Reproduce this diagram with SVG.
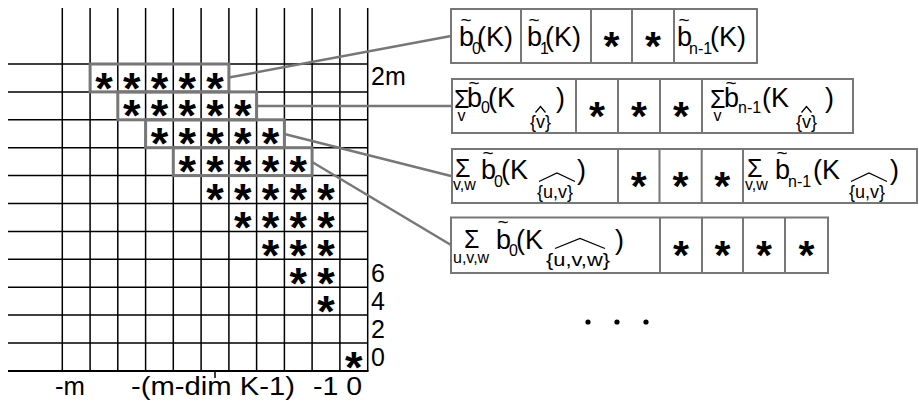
<svg xmlns="http://www.w3.org/2000/svg" width="919" height="404" viewBox="0 0 919 404">
<style>
text{font-family:"Liberation Sans",Arial,sans-serif;fill:#000}
.g{stroke:#000;stroke-width:1.5;fill:none}
.hl{stroke:#777;stroke-width:3;fill:none}
.bx{stroke:#777;stroke-width:2;fill:#fff}
.dv{stroke:#777;stroke-width:2}
.cn{stroke:#777;stroke-width:2.5;fill:none}
.st{font-size:45px;font-weight:bold;text-anchor:middle}
.bs{font-size:41px;font-weight:bold;text-anchor:middle}
.lb{font-size:25px}
.m{font-size:27px}
.sb{font-size:16px}
.br{font-size:18px}
.sg{font-size:25px}
.tl{font-size:19px;text-anchor:middle}
.hat{stroke:#000;stroke-width:1.3;fill:none}
</style>
<g id="grid">
<g class="g">
<path d="M62.3 8V371M90.1 8V371M117.8 8V371M145.6 8V371M173.3 8V371M201.1 8V371M228.9 8V371M256.6 8V371M284.4 8V371M312.1 8V371M339.9 8V371M367.7 8V371"/>
<path d="M8 64H367.7M8 91.9H367.7M8 119.8H367.7M8 147.7H367.7M8 175.6H367.7M8 203.5H367.7M8 231.4H367.7M8 259.3H367.7M8 287.2H367.7M8 315.1H367.7M8 343H367.7"/>
<path d="M8 371H368.5" stroke-width="2"/>
<path d="M215 371V378"/>
</g>
<g class="hl">
<rect x="90.1" y="64" width="138.8" height="27.9"/>
<rect x="117.8" y="91.9" width="138.8" height="27.9"/>
<rect x="145.6" y="119.8" width="138.8" height="27.9"/>
<rect x="173.3" y="147.7" width="138.8" height="27.9"/>
</g>
<g class="st">
<text x="104" y="103.5">*</text><text x="131.7" y="103.5">*</text><text x="159.5" y="103.5">*</text><text x="187.2" y="103.5">*</text><text x="215" y="103.5">*</text>
<text x="131.7" y="131.4">*</text><text x="159.5" y="131.4">*</text><text x="187.2" y="131.4">*</text><text x="215" y="131.4">*</text><text x="242.8" y="131.4">*</text>
<text x="159.5" y="159.3">*</text><text x="187.2" y="159.3">*</text><text x="215" y="159.3">*</text><text x="242.8" y="159.3">*</text><text x="270.5" y="159.3">*</text>
<text x="187.2" y="187.2">*</text><text x="215" y="187.2">*</text><text x="242.8" y="187.2">*</text><text x="270.5" y="187.2">*</text><text x="298.3" y="187.2">*</text>
<text x="215" y="215.1">*</text><text x="242.8" y="215.1">*</text><text x="270.5" y="215.1">*</text><text x="298.3" y="215.1">*</text><text x="326" y="215.1">*</text>
<text x="242.8" y="243">*</text><text x="270.5" y="243">*</text><text x="298.3" y="243">*</text><text x="326" y="243">*</text>
<text x="270.5" y="270.9">*</text><text x="298.3" y="270.9">*</text><text x="326" y="270.9">*</text>
<text x="298.3" y="298.8">*</text><text x="326" y="298.8">*</text>
<text x="326" y="326.7">*</text>
<text x="353.8" y="382.5">*</text>
</g>
<g class="lb">
<text x="371" y="85">2m</text>
<text x="371" y="282">6</text>
<text x="371" y="310">4</text>
<text x="371" y="338">2</text>
<text x="371" y="366">0</text>
<text x="55" y="395" textLength="30" lengthAdjust="spacingAndGlyphs">-m</text>
<text x="131" y="395" textLength="164" lengthAdjust="spacingAndGlyphs">-(m-dim K-1)</text>
<text x="313" y="395" textLength="49" lengthAdjust="spacingAndGlyphs">-1 0</text>
</g>
</g>
<g id="connectors" class="cn">
<path d="M228.9 77.5L451 36"/>
<path d="M256.6 106H451"/>
<path d="M284.4 134L451 176"/>
<path d="M312.1 162L451 245"/>
</g>
<g id="box1">
<rect class="bx" x="451" y="9" width="306" height="54"/>
<path class="dv" d="M521 9V63M591 9V63M632 9V63M674 9V63"/>
<text class="m" x="459" y="46">b</text><text class="tl" x="466" y="26">~</text><text class="sb" x="472" y="54">0</text><text class="m" x="477" y="46">(K)</text>
<text class="m" x="527" y="46">b</text><text class="tl" x="534" y="26">~</text><text class="sb" x="540" y="54">1</text><text class="m" x="545" y="46">(K)</text>
<text class="bs" x="611.5" y="59.5">*</text><text class="bs" x="653" y="59.5">*</text>
<text class="m" x="677" y="46">b</text><text class="tl" x="684" y="26">~</text><text class="sb" x="689" y="54">n-1</text><text class="m" x="710" y="46">(K)</text>
</g>
<g id="box2">
<rect class="bx" x="452" y="79" width="401" height="54"/>
<path class="dv" d="M576 79V133M618 79V133M660 79V133M702 79V133"/>
<text class="sg" x="454" y="108">Σ</text><text class="sb" x="457.5" y="121">v</text>
<text class="m" x="467" y="107">b</text><text class="tl" x="474" y="89">~</text><text class="sb" x="481" y="113">0</text><text class="m" x="488" y="107">(K</text>
<text class="br" x="530" y="128">{v}</text><path class="hat" d="M535.5 112.5L540.5 106.5L545.5 112.5"/><text class="m" x="556" y="107">)</text>
<text class="bs" x="597" y="129.5">*</text><text class="bs" x="639" y="129.5">*</text><text class="bs" x="681" y="129.5">*</text>
<text class="sg" x="710" y="108">Σ</text><text class="sb" x="713.5" y="121">v</text>
<text class="m" x="724" y="107">b</text><text class="tl" x="731" y="89">~</text><text class="sb" x="738" y="113">n-1</text><text class="m" x="762" y="107">(K</text>
<text class="br" x="796" y="128">{v}</text><path class="hat" d="M801.5 112.5L806.5 106.5L811.5 112.5"/><text class="m" x="825" y="107">)</text>
</g>
<g id="box3">
<rect class="bx" x="452" y="149" width="465" height="54"/>
<path class="dv" d="M618 149V203M659.5 149V203M701.7 149V203M743 149V203"/>
<text class="sg" x="455" y="177" font-size="23">Σ</text><text class="sb" x="453" y="190">v,w</text>
<text class="m" x="481" y="179">b</text><text class="tl" x="488" y="159">~</text><text class="sb" x="494" y="187">0</text><text class="m" x="501" y="179">(K</text>
<text class="br" x="537" y="198">{u,v}</text><path class="hat" d="M539 181.5L557 173L575 181.5"/><text class="m" x="577" y="179">)</text>
<text class="bs" x="638.7" y="199.5">*</text><text class="bs" x="680.6" y="199.5">*</text><text class="bs" x="722.3" y="199.5">*</text>
<text class="sg" x="747" y="177" font-size="23">Σ</text><text class="sb" x="745" y="190">v,w</text>
<text class="m" x="775" y="179">b</text><text class="tl" x="782" y="159">~</text><text class="sb" x="788" y="187">n-1</text><text class="m" x="813" y="179">(K</text>
<text class="br" x="849" y="198">{u,v}</text><path class="hat" d="M851 181.5L869 173L887 181.5"/><text class="m" x="890" y="179">)</text>
</g>
<g id="box4">
<rect class="bx" x="451" y="217.5" width="377" height="55.5"/>
<path class="dv" d="M660 217.5V273M702 217.5V273M743 217.5V273M785 217.5V273"/>
<text class="sg" x="464" y="248">Σ</text><text class="sb" x="453" y="263" font-size="16">u,v,w</text>
<text class="m" x="496" y="249">b</text><text class="tl" x="503" y="228">~</text><text class="sb" x="509" y="256">0</text><text class="m" x="516" y="249">(K</text>
<text class="br" x="546" y="266" font-size="19" textLength="64" lengthAdjust="spacingAndGlyphs">{u,v,w}</text><path class="hat" d="M555 248.5L580 238.5L605 248.5"/><text class="m" x="615" y="249">)</text>
<text class="bs" x="681" y="268.5">*</text><text class="bs" x="722.5" y="268.5">*</text><text class="bs" x="764" y="268.5">*</text><text class="bs" x="806.5" y="268.5">*</text>
</g>
<g id="ellipsis">
<circle cx="588" cy="322" r="2.6"/><circle cx="617" cy="322" r="2.6"/><circle cx="646" cy="322" r="2.6"/>
</g>
</svg>
